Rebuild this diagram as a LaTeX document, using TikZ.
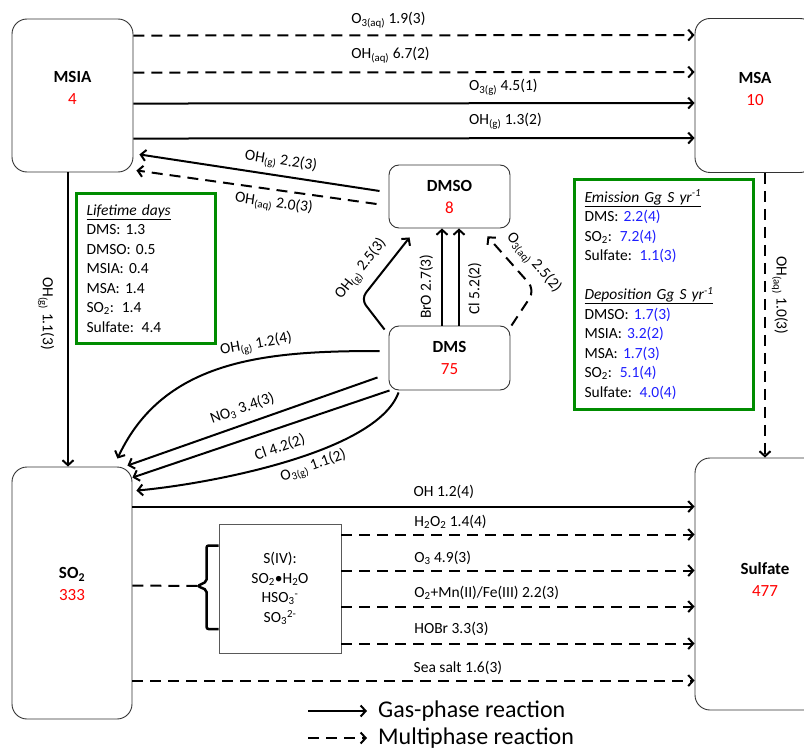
\documentclass[tikz,border=0pt]{standalone}
\usepackage{fontspec}
\setmainfont{Carlito}
\usetikzlibrary{arrows.meta,calc,positioning}
\definecolor{boxgreen}{RGB}{0,140,0}
\definecolor{valblue}{RGB}{30,30,255}
\definecolor{numred}{RGB}{255,0,0}

\begin{document}
\begin{tikzpicture}[
    x=1pt, y=1pt,
    every node/.style={font=\fontsize{15.5}{19.5}\selectfont},
    species/.style={
        draw=black!80,
        line width=0.9pt,
        rounded corners=#1,
        align=center,
        inner sep=2pt,
        font=\fontsize{17}{22}\selectfont
    },
    species/.default=15pt,
    gas/.style={
        -{Straight Barb[length=5pt,width=11pt]},
        line width=2pt
    },
    multi/.style={
        gas,
        dash pattern=on 11pt off 7pt
    },
    lbl/.style={inner sep=2pt},
    infobox/.style={
        draw=boxgreen,
        line width=3pt,
        anchor=north west,
        align=left,
        inner xsep=10pt
    }
]
    \useasboundingbox (0,0) rectangle (804,-749);

    % Species reservoirs
    \node[species, minimum width=121pt, minimum height=153pt, text depth=16pt] (MSIA) at (72.5,-95.5)
        {\textbf{MSIA}\\\textcolor{numred}{4}};
    \node[species, minimum width=120pt, minimum height=154pt, text depth=14pt] (MSA) at (755,-95.5)
        {\textbf{MSA}\\\textcolor{numred}{10}};
    \node[species=10pt, minimum width=121pt, minimum height=63pt] (DMSO) at (449.5,-196.5)
        {\textbf{DMSO}\\\textcolor{numred}{8}};
    \node[species=10pt, minimum width=121pt, minimum height=64pt] (DMS) at (449.5,-358)
        {\textbf{DMS}\\\textcolor{numred}{75}};
    \node[species, minimum width=120pt, minimum height=252pt, text depth=18pt] (SO2) at (72,-593)
        {\textbf{SO\textsubscript{2}}\\\textcolor{numred}{333}};
    \node[species, minimum width=140pt, minimum height=252pt, text depth=8pt] (Sulfate) at (765,-584)
        {\textbf{Sulfate}\\\textcolor{numred}{477}};

    % Aqueous S(IV) pool
    \node[draw=black!65, line width=0.9pt, minimum width=122pt, minimum height=129pt,
          align=center] (SIV) at (280,-588.5)
        {S(IV):\\SO\textsubscript{2}\textbullet H\textsubscript{2}O\\
         HSO\textsubscript{3}\textsuperscript{-}\\SO\textsubscript{3}\textsuperscript{2-}};

    % Lifetimes
    \node[infobox, text width=119pt, minimum height=150pt] (life) at (75,-192) {
        \underline{\textit{Lifetime days}}\\
        DMS: 1.3\\
        DMSO: 0.5\\
        MSIA: 0.4\\
        MSA: 1.4\\
        SO\textsubscript{2}: 1.4\\
        Sulfate: 4.4
    };

    % Budget terms
    \node[infobox, text width=159pt, minimum height=230pt] (budget) at (573,-178) {
        \underline{\textit{Emission Gg S yr\textsuperscript{-1}}}\\
        DMS: \textcolor{valblue}{2.2(4)}\\
        SO\textsubscript{2}: \textcolor{valblue}{7.2(4)}\\
        Sulfate: \textcolor{valblue}{1.1(3)}\\[19.5pt]
        \underline{\textit{Deposition Gg S yr\textsuperscript{-1}}}\\
        DMSO: \textcolor{valblue}{1.7(3)}\\
        MSIA: \textcolor{valblue}{3.2(2)}\\
        MSA: \textcolor{valblue}{1.7(3)}\\
        SO\textsubscript{2}: \textcolor{valblue}{5.1(4)}\\
        Sulfate: \textcolor{valblue}{4.0(4)}
    };

    % Bend points and brace tip
    \coordinate (bendL) at (361,-299);
    \coordinate (bendR) at (535,-290);
    \coordinate (brace) at ([xshift=-21pt,yshift=2.5pt]SIV.west);

    % MSIA -> MSA
    \draw[multi] ([yshift=-17pt]MSIA.north east) --
        node[lbl, anchor=south west, pos=0.383, yshift=4pt] {O\textsubscript{3(aq)} 1.9(3)}
        ([yshift=-17pt]MSA.north west);
    \draw[multi] ([yshift=-54pt]MSIA.north east) --
        node[lbl, anchor=south west, pos=0.383, yshift=6pt] {OH\textsubscript{(aq)} 6.7(2)}
        ([yshift=-54pt]MSA.north west);
    \draw[gas] ([yshift=-85pt]MSIA.north east) --
        node[lbl, anchor=south west, pos=0.593, yshift=5pt] {O\textsubscript{3(g)} 4.5(1)}
        ([yshift=-85pt]MSA.north west);
    \draw[gas] ([yshift=-120pt]MSIA.north east) --
        node[lbl, anchor=south west, pos=0.593, yshift=6pt] {OH\textsubscript{(g)} 1.3(2)}
        ([yshift=-120pt]MSA.north west);

    % DMSO -> MSIA
    \draw[gas] ([xshift=-9pt,yshift=5.5pt]DMSO.west) --
        node[lbl, sloped, above=3pt, pos=0.42] {OH\textsubscript{(g)} 2.2(3)}
        ([xshift=6pt,yshift=18pt]MSIA.south east);
    \draw[multi] ([xshift=-12pt,yshift=-7.5pt]DMSO.west) --
        node[lbl, sloped, below=3pt, pos=0.42] {OH\textsubscript{(aq)} 2.0(3)}
        ([xshift=3pt,yshift=2pt]MSIA.south east);

    % MSIA -> SO2, MSA -> Sulfate
    \draw[gas] ([xshift=-4.5pt]MSIA.south) --
        node[lbl, pos=0.48, xshift=-22pt, rotate=-90] {OH\textsubscript{(g)} 1.1(3)}
        ([xshift=-4pt]SO2.north);
    \draw[multi] ([xshift=10pt]MSA.south) --
        node[lbl, pos=0.43, xshift=15pt, rotate=-90] {OH\textsubscript{(aq)} 1.0(3)}
        (Sulfate.north);

    % DMS -> DMSO
    \draw[gas, rounded corners=8pt] ([xshift=-4pt,yshift=-4pt]DMS.north west) -- (bendL) --
        node[lbl, sloped, above=7pt, pos=0.3] {OH\textsubscript{(g)} 2.5(3)}
        ([xshift=21pt,yshift=-9pt]DMSO.south west);
    \draw[gas] ([xshift=-7.5pt]DMS.north) --
        node[lbl, sloped, above=6pt, pos=0.4] {BrO 2.7(3)}
        ([xshift=-7.5pt]DMSO.south);
    \draw[gas] ([xshift=9.5pt]DMS.north) --
        node[lbl, sloped, below=6pt, pos=0.38] {Cl 5.2(2)}
        ([xshift=9.5pt]DMSO.south);
    \draw[multi, rounded corners=10pt] ([xshift=1pt]DMS.north east) -- (bendR) --
        node[lbl, sloped, above=6pt, pos=0.3] {O\textsubscript{3(aq)} 2.5(2)}
        ([xshift=-23pt,yshift=-8pt]DMSO.south east);

    % DMS -> SO2
    \draw[gas] ([xshift=-9pt,yshift=7pt]DMS.west) to[out=180, in=65]
        node[lbl, sloped, above=3pt, pos=0.38] {OH\textsubscript{(g)} 1.2(4)}
        ([xshift=-15pt,yshift=8pt]SO2.north east);
    \draw[gas] ([xshift=-11pt,yshift=13pt]DMS.south west) --
        node[lbl, sloped, above=6pt, pos=0.52] {NO\textsubscript{3} 3.4(3)}
        ([xshift=-5pt,yshift=1pt]SO2.north east);
    \draw[gas] ([xshift=1pt]DMS.south west) --
        node[lbl, sloped, below=9pt, pos=0.45] {Cl 4.2(2)}
        ([yshift=-11pt]SO2.north east);
    \draw[gas] ([xshift=10pt,yshift=-2pt]DMS.south west) to[out=-110, in=5, looseness=0.6]
        node[lbl, sloped, below=2pt, pos=0.42] {O\textsubscript{3(g)} 1.1(2)}
        ([xshift=4pt,yshift=-24pt]SO2.north east);

    % SO2 -> Sulfate
    \draw[gas] ([yshift=-40pt]SO2.north east) --
        node[lbl, anchor=south west, pos=0.495, yshift=5pt] {OH 1.2(4)}
        ([yshift=-49pt]Sulfate.north west);
    \draw[multi] ([yshift=-11pt]SIV.north east) --
        node[lbl, anchor=south west, pos=0.198, yshift=3pt] {H\textsubscript{2}O\textsubscript{2} 1.4(4)}
        ([yshift=-77pt]Sulfate.north west);
    \draw[multi] ([yshift=-47pt]SIV.north east) --
        node[lbl, anchor=south west, pos=0.198, yshift=3pt] {O\textsubscript{3} 4.9(3)}
        ([yshift=-113pt]Sulfate.north west);
    \draw[multi] ([yshift=-83pt]SIV.north east) --
        node[lbl, anchor=south west, pos=0.198, yshift=4pt] {O\textsubscript{2}+Mn(II)/Fe(III) 2.2(3)}
        ([yshift=-149pt]Sulfate.north west);
    \draw[multi] ([yshift=-120pt]SIV.north east) --
        node[lbl, anchor=south west, pos=0.198, yshift=5pt] {HOBr 3.3(3)}
        ([yshift=-186pt]Sulfate.north west);
    \draw[multi] ([yshift=-214pt]SO2.north east) --
        node[lbl, anchor=south west, pos=0.495, yshift=3pt] {Sea salt 1.6(3)}
        ([yshift=-223pt]Sulfate.north west);

    % SO2 dissolves into S(IV)
    \draw[line width=2pt, dash pattern=on 11pt off 7pt] ([yshift=-119pt]SO2.north east) -- (brace);
    \draw[line width=2.5pt, rounded corners=2pt]
        ([yshift=-22pt]SIV.north west) -- ++(-12,0) -- ++(0,-36)
        -- (brace) -- ++(9,-4) -- ++(0,-39) -- ++(12,0);

    % Legend
    \node[anchor=west, inner sep=1pt, font=\fontsize{24}{28}\selectfont] (gaslbl) at (377,-711)
        {Gas-phase reaction};
    \node[anchor=west, inner sep=1pt, font=\fontsize{24}{28}\selectfont] (multilbl) at (377,-738)
        {Multiphase reaction};
    \draw[gas] ([xshift=-69pt]gaslbl.west) -- ([xshift=-10pt]gaslbl.west);
    \draw[multi] ([xshift=-69pt]multilbl.west) -- ([xshift=-10pt]multilbl.west);

\end{tikzpicture}
\end{document}
